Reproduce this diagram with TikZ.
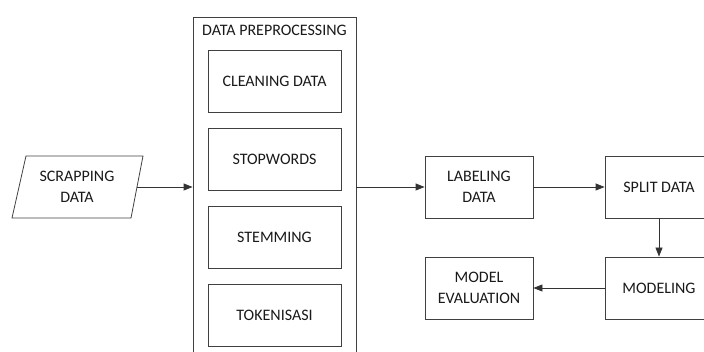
\documentclass[tikz,border=0pt]{standalone}
\usepackage{fontspec}
\setmainfont{Carlito}
\usetikzlibrary{arrows.meta}
\tikzset{
  box/.style={draw=black!75,thick,align=center,minimum width=108pt,minimum height=62pt,inner sep=0pt,font=\fontsize{16}{21.5}\selectfont},
  stepbox/.style={box,minimum width=133pt},
  flow/.style={draw=black!80,thick,-{Triangle[length=9pt,width=7pt]}}
}
\begin{document}
\begin{tikzpicture}[x=1pt,y=-1pt,line width=1pt,text=black!90]
\useasboundingbox (0,0) rectangle (704,352);
\clip (0,0) rectangle (704,352);
% input
\draw[draw=black!75,thick] (26,156) -- (143,156) -- (131,218) -- (12,218) -- cycle;
\node[align=center,font=\fontsize{16}{21.5}\selectfont] (scrap) at (77,187) {SCRAPPING\\DATA};
\coordinate (scrapR) at (137,187);
% preprocessing block
\node[draw=black!75,thick,minimum width=163pt,minimum height=343pt,inner sep=0pt] (prep) at (274.5,188.5) {};
\node[font=\fontsize{16}{19}\selectfont] (preptitle) at (274.5,30) {DATA PREPROCESSING};
\node[stepbox] (clean) at (274.5,81) {CLEANING DATA};
\node[stepbox] (stop) at (274.5,159) {STOPWORDS};
\node[stepbox] (stem) at (274.5,237) {STEMMING};
\node[stepbox] (token) at (274.5,315) {TOKENISASI};
% rest of the flow
\node[box] (label) at (479,187) {LABELING\\DATA};
\node[box] (split) at (659,187) {SPLIT DATA};
\node[box] (model) at (659,288) {MODELING};
\node[box] (eval) at (479,288) {MODEL\\EVALUATION};
\draw[flow] (scrapR) -- (prep.west |- scrapR);
\draw[flow] (prep.east |- label.west) -- (label.west);
\draw[flow] (label) -- (split);
\draw[flow] (split) -- (model);
\draw[flow] (model) -- (eval);
\end{tikzpicture}
\end{document}
